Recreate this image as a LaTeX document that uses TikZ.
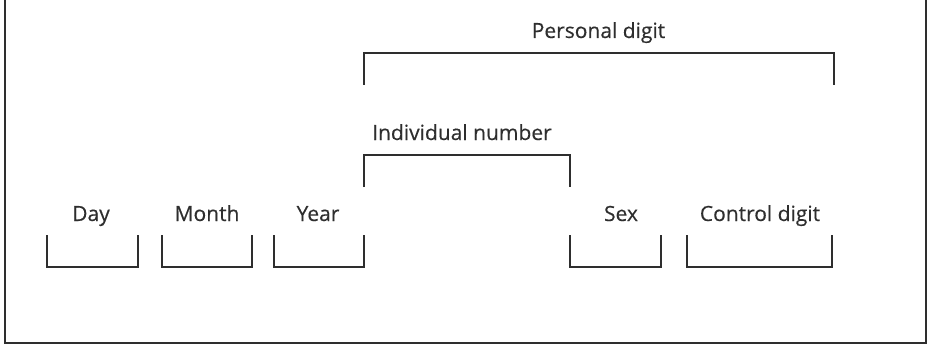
\documentclass[tikz,border=0pt]{standalone}
\usepackage{fontspec}
\setmainfont{Open Sans}[FakeBold=0.35]
\definecolor{ink}{HTML}{2E2E2E}
\begin{document}
\begin{tikzpicture}[x=1pt,y=1pt,
  label/.style={font=\fontsize{21}{23}\selectfont, text=ink, anchor=base, inner sep=0pt},
  cup/.style={draw=ink, line width=1.5pt}]
  \useasboundingbox (0,0) rectangle (928,346);
  % outer frame
  \draw[ink, line width=2pt] (5,3) rectangle (926,346.5);

  % field labels (baselines)
  \node[label] (day)   at (91,125)  {Day};
  \node[label] (month) at (207,125) {Month};
  \node[label] (year)  at (318,125) {Year};
  \node[label] (sex)   at (621,125) {Sex};
  \node[label] (ctrl)  at (760,125) {Control digit};
  \node[label, anchor=base west] (indiv) at (372,206) {Individual number};
  \node[label] (pers)  at (598.5,308) {Personal digit};

  % open-top brackets under each field
  \foreach \n/\a/\b in {d/47/138, m/162/252, y/274/364, s/570/661, c/687/832} {
    \coordinate (\n1) at (\a,111);
    \coordinate (\n2) at (\b,111);
    \draw[cup] (\n1) -- (\a,79) -- (\b,79) -- (\n2);
  }

  % open-bottom brackets grouping fields
  \coordinate (i1) at (364,159);
  \coordinate (i2) at (570,159);
  \draw[cup] (i1) -- (364,191) -- (570,191) -- (i2);
  \coordinate (p1) at (364,261);
  \coordinate (p2) at (834,261);
  \draw[cup] (p1) -- (364,293) -- (834,293) -- (p2);
\end{tikzpicture}
\end{document}
